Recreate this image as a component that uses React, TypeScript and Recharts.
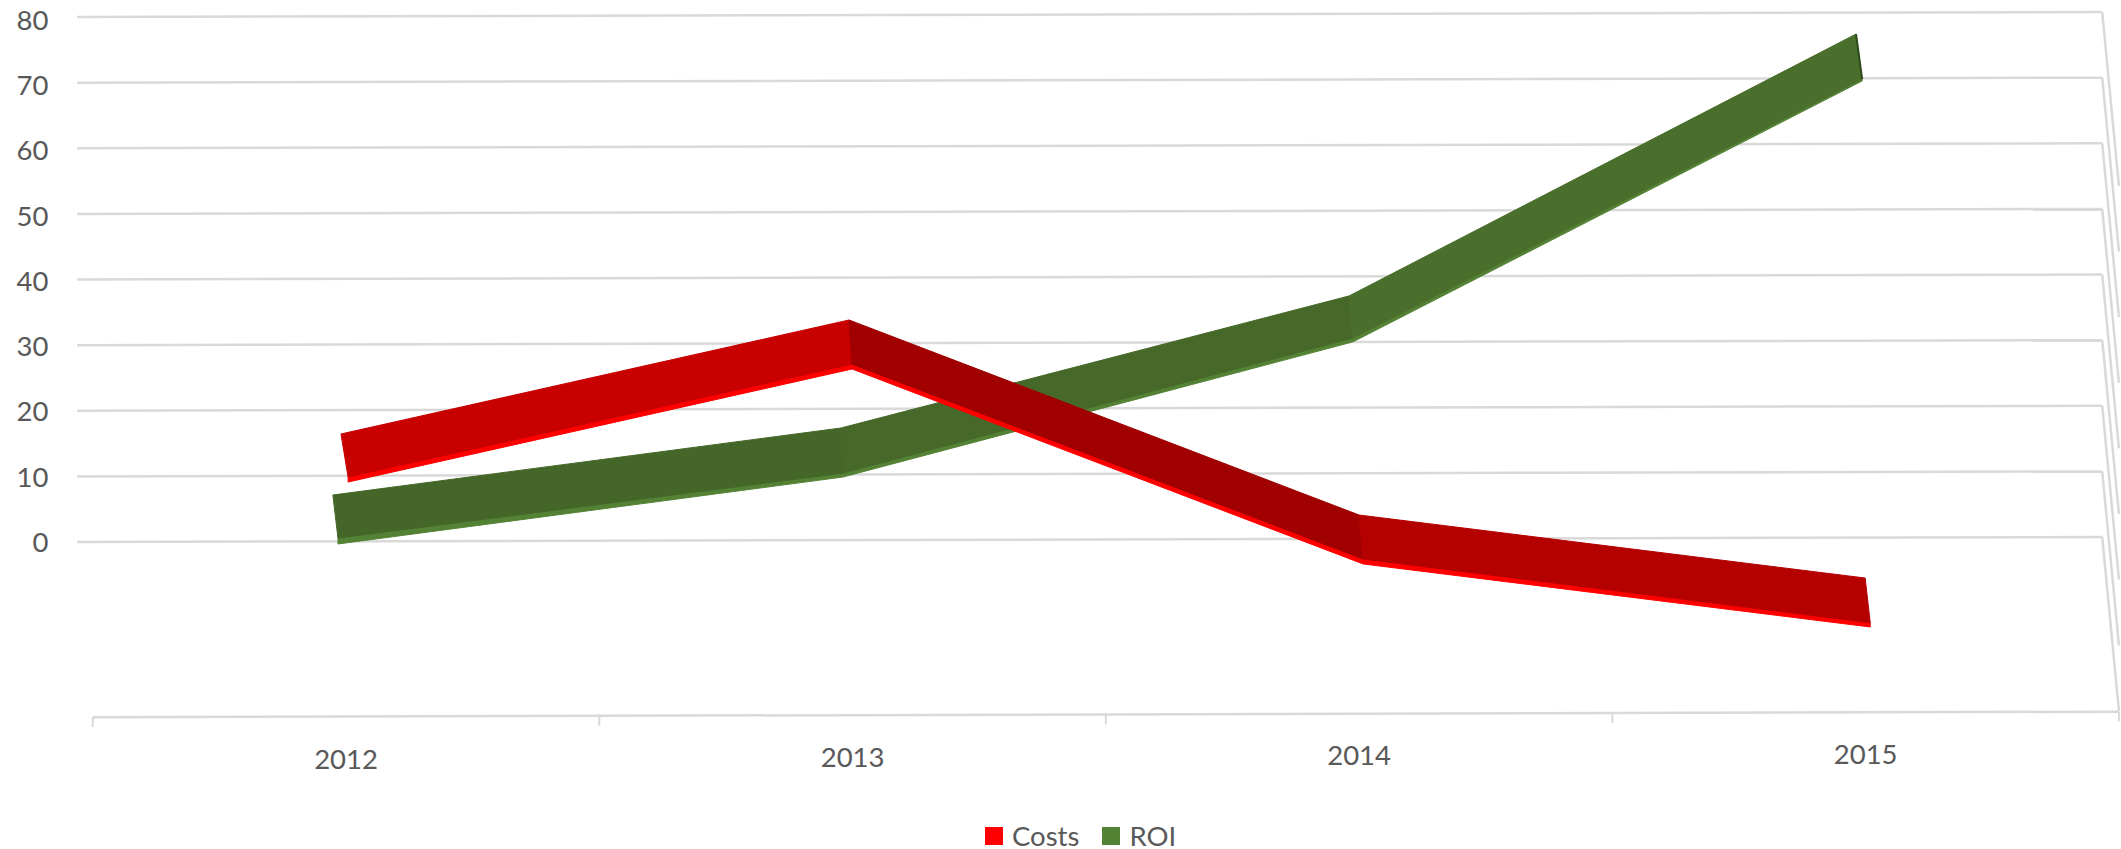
import { Legend, ReferenceLine, Scatter, ScatterChart, XAxis, YAxis } from "recharts"

const categories = [2012, 2013, 2014, 2015]
const valueTicks = [0, 10, 20, 30, 40, 50, 60, 70, 80]

const costsLow = [9.14, 26.36, -3.35, -12.95]
const costsFace = [9.9, 27.1, -2.6, -12.3]
const costsHigh = [16.46, 33.83, 4.11, -5.49]
const costsLowYear = [2012.004, 2012.999, 2014.008, 2015.009]
const costsHighYear = [2011.99, 2012.993, 2014.0, 2014.999]

const roiLow = [-0.3, 9.9, 30.5, 70.25]
const roiFace = [0.6, 10.5, 31.1, 70.55]
const roiHigh = [7.16, 17.37, 37.49, 77.4]
const roiLowYear = [2011.984, 2012.981, 2013.988, 2014.993]
const roiHighYear = [2011.974, 2012.977, 2013.98, 2014.981]

const costsShades = ["#c80000", "#a00000", "#b50000"]
const roiShades = ["#446628", "#466829", "#4a6e2b"]
const roiCapColor = "#2f4a1c"

// tilt of the back wall and floor, in axis units
const gridStartYear = 2011.469
const gridEndYear = 2015.467
const gridRise = 0.76
const wallEndYear = 2015.5
const wallDrop = 26.5
const floorTicks = [2011.5, 2012.5, 2013.5, 2014.5, 2015.5]
const floorLeft = -26.7
const floorRise = 0.85

const textColor = "#595959"
const gridColor = "#d9d9d9"
const fontFamily = "Lato, sans-serif"
const fontSize = 27.5

type Pt = { x: number; y: number }

const hidePoint = () => <g />

function segment(xLow: number[], yLow: number[], xHigh: number[], yHigh: number[], i: number): Pt[] {
  return [
    { x: xLow[i], y: yLow[i] },
    { x: xLow[i + 1], y: yLow[i + 1] },
    { x: xHigh[i + 1], y: yHigh[i + 1] },
    { x: xHigh[i], y: yHigh[i] },
    { x: xLow[i], y: yLow[i] },
  ]
}

function strip(xLow: number[], yLow: number[], yFace: number[]): Pt[] {
  const down = xLow.map((x, i) => ({ x, y: yLow[i] }))
  const up = xLow.map((x, i) => ({ x, y: yFace[i] })).reverse()
  return [...down, ...up, down[0]]
}

function floorY(year: number) {
  return floorLeft + (floorRise * (year - floorTicks[0])) / 4
}

function YTick({ x, y, payload }: any) {
  const shift = (payload.value / 80) * 3
  return (
    <text x={x} y={y + shift} dy="0.36em" textAnchor="end" fill={textColor} fontSize={fontSize} fontFamily={fontFamily}>
      {payload.value}
    </text>
  )
}

function XTick({ x, y, payload }: any) {
  const lift = (payload.value - 2012) * 1.7
  return (
    <text x={x} y={y + 30 - lift} textAnchor="middle" fill={textColor} fontSize={fontSize} fontFamily={fontFamily}>
      {payload.value}
    </text>
  )
}

function LegendRow({ payload }: any) {
  const items = (payload ?? [])
    .filter((item: any) => item.type !== "none")
    .sort((a: any, b: any) => String(a.value).localeCompare(String(b.value)))
  return (
    <div style={{ display: "flex", alignItems: "center", fontFamily, fontSize, color: textColor, lineHeight: "26px" }}>
      {items.map((item: any) => (
        <div key={item.value} style={{ display: "flex", alignItems: "center", marginRight: 23 }}>
          <span style={{ width: 18, height: 18, background: item.color, marginRight: 9, display: "inline-block" }} />
          {item.value}
        </div>
      ))}
    </div>
  )
}

function Ribbon(name: string, color: string, shades: string[], xLow: number[], xHigh: number[], yLow: number[], yFace: number[], yHigh: number[]) {
  const parts = shades.map((shade, i) => (
    <Scatter
      key={`${name}-${i}`}
      data={segment(xLow, yFace, xHigh, yHigh, i)}
      fill={shade}
      line={{ stroke: shade, strokeWidth: 1, fill: shade }}
      lineType="joint"
      shape={hidePoint}
      legendType="none"
      isAnimationActive={false}
    />
  ))
  return [
    <Scatter
      key={`${name}-strip`}
      name={name}
      data={strip(xLow, yLow, yFace)}
      fill={color}
      line={{ stroke: color, strokeWidth: 1, fill: color }}
      lineType="joint"
      shape={hidePoint}
      legendType="square"
      isAnimationActive={false}
    />,
    ...parts,
  ]
}

export default function App() {
  return (
    <div style={{ position: "absolute", left: 0, top: 0, width: 2121, height: 849, overflow: "hidden", background: "#fff" }}>
      <ScatterChart width={2124} height={849} margin={{ top: 3.875, right: 0, bottom: 44.125, left: 0 }}>
        <XAxis
          type="number"
          dataKey="x"
          domain={[2011.44, 2015.51]}
          allowDataOverflow
          ticks={categories}
          tick={<XTick />}
          tickSize={0}
          tickMargin={0}
          axisLine={false}
          tickLine={false}
          height={40}
        />
        <YAxis
          type="number"
          dataKey="y"
          domain={[-30, 82]}
          allowDataOverflow
          ticks={valueTicks}
          tick={<YTick />}
          tickSize={0}
          tickMargin={14}
          axisLine={false}
          tickLine={false}
          width={62.4}
        />
        {valueTicks.map((v) => (
          <ReferenceLine
            key={`grid-${v}`}
            segment={[
              { x: gridStartYear, y: v },
              { x: gridEndYear, y: v + gridRise },
            ]}
            stroke={gridColor}
            strokeWidth={2.5}
            ifOverflow="visible"
          />
        ))}
        {valueTicks.map((v) => (
          <ReferenceLine
            key={`wall-${v}`}
            segment={[
              { x: gridEndYear, y: v + gridRise },
              { x: wallEndYear, y: v + gridRise - wallDrop },
            ]}
            stroke={gridColor}
            strokeWidth={2.5}
            ifOverflow="visible"
          />
        ))}
        <ReferenceLine
          segment={[
            { x: floorTicks[0], y: floorY(floorTicks[0]) },
            { x: floorTicks[4], y: floorY(floorTicks[4]) },
          ]}
          stroke={gridColor}
          strokeWidth={2.5}
          ifOverflow="visible"
        />
        {floorTicks.map((t) => (
          <ReferenceLine
            key={`floor-${t}`}
            segment={[
              { x: t, y: floorY(t) },
              { x: t, y: floorY(t) - 1.5 },
            ]}
            stroke={gridColor}
            strokeWidth={2}
            ifOverflow="visible"
          />
        ))}
        {Ribbon("ROI", "#548235", roiShades, roiLowYear, roiHighYear, roiLow, roiFace, roiHigh)}
        <Scatter
          data={[
            { x: roiHighYear[3], y: roiHigh[3] },
            { x: roiLowYear[3], y: roiFace[3] },
          ]}
          fill={roiCapColor}
          line={{ stroke: roiCapColor, strokeWidth: 2 }}
          lineType="joint"
          shape={hidePoint}
          legendType="none"
          isAnimationActive={false}
        />
        {Ribbon("Costs", "#ff0000", costsShades, costsLowYear, costsHighYear, costsLow, costsFace, costsHigh)}
        <Legend content={<LegendRow />} wrapperStyle={{ left: 985, top: 823, width: "auto" }} />
      </ScatterChart>
    </div>
  )
}
